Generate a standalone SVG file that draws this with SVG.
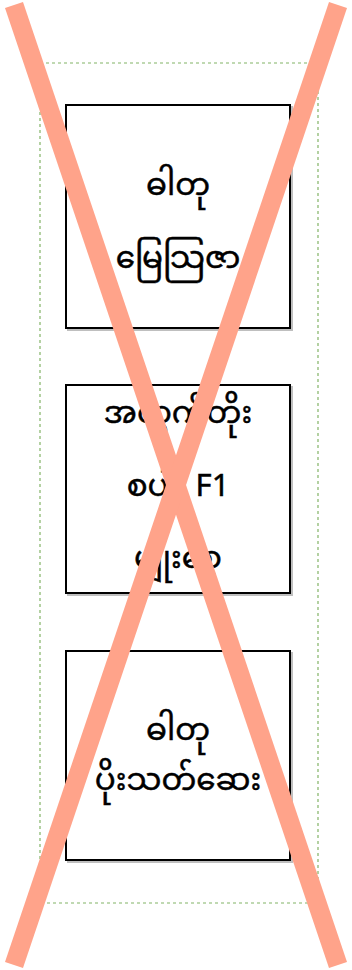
<svg xmlns="http://www.w3.org/2000/svg" width="352" height="970" viewBox="0 0 352 970">
<style>
.frame{fill:none;stroke:#82b366;stroke-width:1.2;stroke-dasharray:3 3}
.box{fill:#ffffff;stroke:#000000;stroke-width:2}
.shadow{fill:none;stroke:#000;stroke-opacity:0.25;stroke-width:2}
.t{font-family:"Noto Sans Myanmar","Padauk","Myanmar Text","Noto Sans","DejaVu Sans",sans-serif;font-size:31px;fill:#000;stroke:#000;stroke-width:0.5;text-anchor:middle}
.x{stroke:#ffa38a;stroke-width:19;stroke-linecap:butt}
</style>
<rect class="frame" x="40" y="63" width="278" height="840"/>
<g id="node-fertilizer">
<rect class="shadow" x="68" y="107" width="224" height="223"/>
<rect class="box" x="66" y="105" width="224" height="223"/>
<text class="t" x="178" y="195">ဓါတု</text>
<text class="t" x="178" y="268">မြေသြဇာ</text>
</g>
<g id="node-seed">
<rect class="shadow" x="68" y="387" width="224" height="208"/>
<rect class="box" x="66" y="385" width="224" height="208"/>
<text class="t" x="178" y="423">အထွက်တိုး</text>
<text class="t" x="178" y="496">စပါး F1</text>
<text class="t" x="178" y="568">မျိုးစေ့</text>
</g>
<g id="node-pesticide">
<rect class="shadow" x="68" y="653" width="224" height="209"/>
<rect class="box" x="66" y="651" width="224" height="209"/>
<text class="t" x="178" y="740">ဓါတု</text>
<text class="t" x="178" y="790">ပိုးသတ်ဆေး</text>
</g>
<g id="connectors"></g>
<g id="cross">
<line class="x" x1="14" y1="5" x2="338" y2="965"/>
<line class="x" x1="338" y1="5" x2="14" y2="965"/>
</g>
</svg>
